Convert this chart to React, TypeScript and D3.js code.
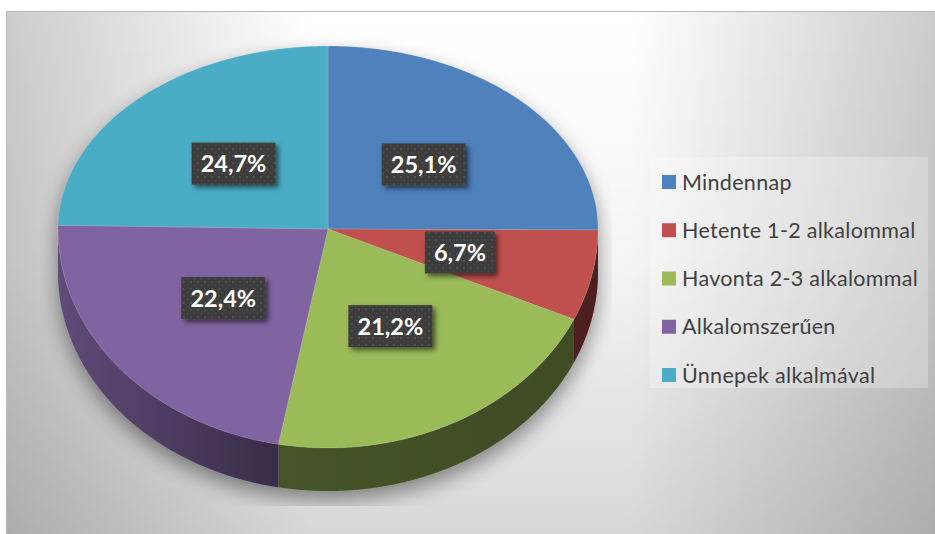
import React from "react";
import * as d3 from "d3";

const categories = ["Mindennap", "Hetente 1-2 alkalommal", "Havonta 2-3 alkalommal", "Alkalomszerűen", "Ünnepek alkalmával"];
const values = [25.1, 6.7, 21.2, 22.4, 24.7];
const labels = ["25,1%", "6,7%", "21,2%", "22,4%", "24,7%"];
const colors = ["#4f81bd", "#c0504d", "#9bbb59", "#8064a2", "#4bacc6"];

const W = 935, H = 534;
const cx = 328, cy = 229, R = 270, ryB = 183, ryF = 219, depth = 43;

function proj(theta: number, rf = 1, dy = 0): [number, number] {
  const c = Math.cos(theta);
  return [cx + rf * R * Math.sin(theta), cy - rf * (c >= 0 ? ryB : ryF) * c + dy];
}

function arcPts(a0: number, a1: number, dy = 0): [number, number][] {
  const n = Math.max(2, Math.ceil(Math.abs(a1 - a0) / (Math.PI / 360)));
  const pts: [number, number][] = [];
  for (let i = 0; i <= n; i++) pts.push(proj(a0 + ((a1 - a0) * i) / n, 1, dy));
  return pts;
}

const line = d3.line<[number, number]>().x(d => d[0]).y(d => d[1]);

export default function App() {
  const pie = d3.pie<number>().sort(null).value(d => d)(values);

  const silhouette =
    line([...arcPts(-Math.PI / 2, Math.PI / 2), ...arcPts(Math.PI / 2, (3 * Math.PI) / 2, depth)])! + "Z";

  const legendY = d3.scalePoint<string>().domain(categories).range([182, 375]);

  return (
    <svg width={W} height={H} style={{ position: "absolute", left: 0, top: 0 }} fontFamily="Lato, 'Open Sans', sans-serif">
      <defs>
        <linearGradient id="bgH" x1="0" x2="1" y1="0" y2="0">
          <stop offset="0" stopColor="#000" stopOpacity={0.2} />
          <stop offset="0.33" stopColor="#000" stopOpacity={0} />
          <stop offset="0.67" stopColor="#000" stopOpacity={0} />
          <stop offset="1" stopColor="#000" stopOpacity={0.2} />
        </linearGradient>
        <linearGradient id="bgV" x1="0" x2="0" y1="0" y2="1">
          <stop offset="0" stopColor="#000" stopOpacity={0} />
          <stop offset="0.45" stopColor="#000" stopOpacity={0.04} />
          <stop offset="1" stopColor="#000" stopOpacity={0.16} />
        </linearGradient>
        <linearGradient id="sideShade" gradientUnits="userSpaceOnUse" x1={cx - R} x2={cx + R} y1="0" y2="0">
          <stop offset="0" stopColor="#000" stopOpacity={0.25} />
          <stop offset="0.4" stopColor="#000" stopOpacity={0.55} />
          <stop offset="1" stopColor="#000" stopOpacity={0.6} />
        </linearGradient>
        <filter id="pieShadow" x="-20%" y="-20%" width="140%" height="140%">
          <feGaussianBlur stdDeviation="10" />
        </filter>
        <filter id="lblShadow" x="-20%" y="-20%" width="150%" height="150%">
          <feDropShadow dx="3" dy="3" stdDeviation="2.5" floodColor="#000" floodOpacity="0.55" />
        </filter>
        <pattern id="dots" width="7" height="7" patternUnits="userSpaceOnUse">
          <rect width="7" height="7" fill="#3d3d3d" />
          <circle cx="2" cy="2" r="0.9" fill="#565656" />
          <circle cx="5.5" cy="5.5" r="0.9" fill="#4c4c4c" />
        </pattern>
        <clipPath id="plotClip">
          <rect x={40} y={20} width={572} height={486} />
        </clipPath>
      </defs>

      <rect x={6} y={11} width={W - 6} height={H} fill="#fff" />
      <rect x={6} y={11} width={W - 6} height={H} fill="url(#bgH)" />
      <rect x={6} y={11} width={W - 6} height={H} fill="url(#bgV)" />
      <line x1={6} x2={W} y1={11.5} y2={11.5} stroke="#b8b8b8" />
      <line x1={6.5} x2={6.5} y1={11} y2={H} stroke="#b8b8b8" />

      <g clipPath="url(#plotClip)">
        <path d={silhouette} transform="translate(0,9)" fill="#000" opacity={0.42} filter="url(#pieShadow)" />
      </g>

      {pie.map((p, i) => {
        const a0 = Math.max(p.startAngle, Math.PI / 2);
        const a1 = Math.min(p.endAngle, (3 * Math.PI) / 2);
        if (a0 >= a1) return null;
        const d = line([...arcPts(a0, a1), ...arcPts(a1, a0, depth)])! + "Z";
        return (
          <g key={"s" + i}>
            <path d={d} fill={colors[i]} />
            <path d={d} fill="url(#sideShade)" />
          </g>
        );
      })}

      {pie.map((p, i) => {
        const d = line([[cx, cy], ...arcPts(p.startAngle, p.endAngle)])! + "Z";
        return <path key={"t" + i} d={d} fill={colors[i]} stroke="#ffffff" strokeOpacity={0.25} strokeWidth={0.6} />;
      })}

      {pie.map((p, i) => {
        const mid = (p.startAngle + p.endAngle) / 2;
        const [lx, ly] = proj(mid, 0.5);
        const w = labels[i].length * 14 + 14;
        const h = 42;
        return (
          <g key={"l" + i}>
            <rect x={lx - w / 2} y={ly - h / 2} width={w} height={h} fill="url(#dots)" filter="url(#lblShadow)" />
            <text x={lx} y={ly} dy="0.36em" textAnchor="middle" fill="#fff" fontWeight="bold" fontSize={23.5}>
              {labels[i]}
            </text>
          </g>
        );
      })}

      <rect x={650} y={157} width={278} height={231} fill="#fff" opacity={0.25} />
      {categories.map((c, i) => {
        const y = legendY(c)!;
        return (
          <g key={"g" + i}>
            <rect x={662} y={y - 7} width={14} height={14} fill={colors[i]} />
            <text x={682} y={y} dy="0.35em" fontSize={21.5} letterSpacing={0.3} fill="#404040">
              {c}
            </text>
          </g>
        );
      })}
    </svg>
  );
}
